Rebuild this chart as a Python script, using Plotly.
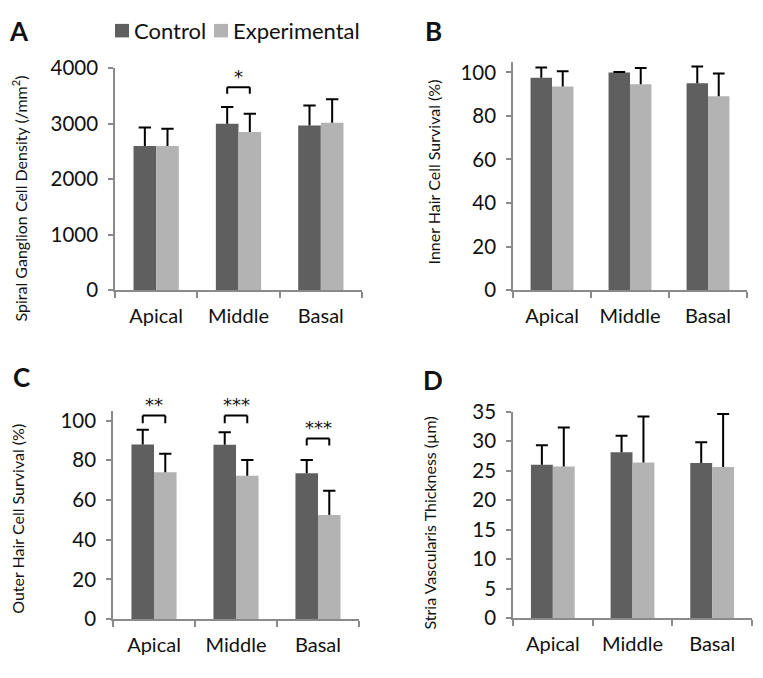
import plotly.graph_objects as go

regions = ["Apical", "Middle", "Basal"]

# A - spiral ganglion cell density
sgn_ctrl = [2600, 3000, 2970]
sgn_ctrl_sd = [330, 300, 360]
sgn_exp = [2600, 2850, 3020]
sgn_exp_sd = [310, 330, 420]

# B - inner hair cell survival
ihc_ctrl = [97.5, 100, 95]
ihc_ctrl_sd = [4.7, 0.2, 7.7]
ihc_exp = [93.5, 94.5, 89]
ihc_exp_sd = [7.0, 7.5, 10.5]

# C - outer hair cell survival
ohc_ctrl = [88, 87.8, 73.5]
ohc_ctrl_sd = [7.4, 6.4, 6.7]
ohc_exp = [74, 72.2, 52.5]
ohc_exp_sd = [9.3, 8.0, 12.1]

# D - stria vascularis thickness
sv_ctrl = [26.0, 28.1, 26.3]
sv_ctrl_sd = [3.3, 2.8, 3.5]
sv_exp = [25.7, 26.4, 25.6]
sv_exp_sd = [6.6, 7.8, 9.0]

# significance marks: (panel, region index, bracket y, leg y, label)
sig_marks = [
    (1, 1, 3657, 3540, "*"),
    (3, 0, 102.6, 98.7, "**"),
    (3, 1, 102.6, 98.7, "***"),
    (3, 2, 91.0, 87.4, "***"),
]

DARK = "#5f5f5f"
LIGHT = "#b3b3b3"
AXIS = "#8a8a8a"
FONT = "Lato"
BARGAP = 0.45
half = (1 - BARGAP) / 4   # offset of each bar centre from its category

W, H = 763, 678
PAGE = 8  # the page body margin shifts the figure by 8px


def px_x(p):
    return (p - PAGE) / W


def px_y(p):
    return 1 - (p - PAGE) / H


fig = go.Figure()

panels = [
    (1, sgn_ctrl, sgn_ctrl_sd, sgn_exp, sgn_exp_sd),
    (2, ihc_ctrl, ihc_ctrl_sd, ihc_exp, ihc_exp_sd),
    (3, ohc_ctrl, ohc_ctrl_sd, ohc_exp, ohc_exp_sd),
    (4, sv_ctrl, sv_ctrl_sd, sv_exp, sv_exp_sd),
]

err_line = dict(color="black", width=2)
for n, c, csd, e, esd in panels:
    ax = "" if n == 1 else str(n)
    for name, vals, sd, col, off in [("Control", c, csd, DARK, -half),
                                      ("Experimental", e, esd, LIGHT, half)]:
        fig.add_trace(go.Bar(
            x=regions, y=vals, name=name, marker_color=col, marker_line_width=0,
            xaxis="x" + ax, yaxis="y" + ax, showlegend=False,
        ))
        # upper-only error bars (Excel style, no lower cap)
        for i, (v, s) in enumerate(zip(vals, sd)):
            xc = i + off
            fig.add_shape(type="line", xref="x" + ax, yref="y" + ax,
                          x0=xc, x1=xc, y0=v, y1=v + s, line=err_line)
            fig.add_shape(type="line", xref="x" + ax, yref="y" + ax,
                          x0=xc - 0.075, x1=xc + 0.075, y0=v + s, y1=v + s, line=err_line)


def dx(a, b):
    return [px_x(a), px_x(b)]


def dy(top, bottom):
    return [px_y(bottom), px_y(top)]


xax = dict(type="category", showline=True, linecolor=AXIS, linewidth=1.5,
           ticks="outside", tickson="boundaries", ticklen=6, tickcolor=AXIS, tickwidth=1.5,
           tickfont=dict(size=20, color="#111"), ticklabelstandoff=7,
           showgrid=False, zeroline=False, fixedrange=True)
yax = dict(showline=True, linecolor=AXIS, linewidth=1.5, ticks="outside", ticklen=5,
           tickcolor=AXIS, tickwidth=1.5, tickfont=dict(size=20.5, color="#111"),
           ticklabelstandoff=6, showgrid=False, zeroline=False, fixedrange=True)

fig.update_layout(
    width=W, height=H, margin=dict(l=0, r=0, t=0, b=0),
    paper_bgcolor="white", plot_bgcolor="white",
    font=dict(family=FONT, color="#111"),
    barmode="group", bargap=BARGAP, bargroupgap=0, showlegend=False,
    xaxis=dict(xax, domain=dx(115, 362), anchor="y"),
    yaxis=dict(yax, domain=dy(57, 287), range=[0, 4000], tickvals=[0, 1000, 2000, 3000, 4000], anchor="x"),
    xaxis2=dict(xax, domain=dx(513, 747), anchor="y2"),
    yaxis2=dict(yax, domain=dy(50, 287), range=[0, 105], tickvals=[0, 20, 40, 60, 80, 100], anchor="x2"),
    xaxis3=dict(xax, domain=dx(113, 359), anchor="y3"),
    yaxis3=dict(yax, domain=dy(412, 628), range=[0, 105], tickvals=[0, 20, 40, 60, 80, 100], anchor="x3"),
    xaxis4=dict(xax, domain=dx(513, 752), anchor="y4"),
    yaxis4=dict(yax, domain=dy(413, 627), range=[0, 35], tickvals=[0, 5, 10, 15, 20, 25, 30, 35], anchor="x4"),
)

# legend drawn by hand (Excel style swatches)
for name, col, sx, tx in [("Control", DARK, 115, 132), ("Experimental", LIGHT, 214, 231)]:
    fig.add_shape(type="rect", xref="paper", yref="paper", x0=px_x(sx), x1=px_x(sx + 14),
                  y0=px_y(25), y1=px_y(11), fillcolor=col, line_width=0)
    fig.add_annotation(xref="paper", yref="paper", x=px_x(tx), y=px_y(18), text=name,
                       showarrow=False, xanchor="left", yanchor="middle",
                       font=dict(size=22, color="#111"))

# significance brackets between bar centres
for n, i, yb, yl, label in sig_marks:
    ax = "" if n == 1 else str(n)
    xr, yr = "x" + ax, "y" + ax
    x0, x1 = i - half, i + half
    line = dict(color="black", width=2)
    fig.add_shape(type="line", xref=xr, yref=yr, x0=x0, x1=x1, y0=yb, y1=yb, line=line)
    fig.add_shape(type="line", xref=xr, yref=yr, x0=x0, x1=x0, y0=yb, y1=yl, line=line)
    fig.add_shape(type="line", xref=xr, yref=yr, x0=x1, x1=x1, y0=yb, y1=yl, line=line)
    fig.add_annotation(xref=xr, yref=yr, x=i, y=yb, yshift=-2, text=label, showarrow=False,
                       font=dict(family="DejaVu Sans", size=18, color="#111"), yanchor="bottom")

# panel letters
for letter, px, py in [("A", 19, 18), ("B", 433, 18), ("C", 21, 377), ("D", 433, 380)]:
    fig.add_annotation(xref="paper", yref="paper", x=px_x(px), y=px_y(py), text="<b>%s</b>" % letter,
                       showarrow=False, font=dict(size=26, color="#111"),
                       xanchor="center", yanchor="middle")

# y axis titles
for title, px, py in [
    ("Spiral Ganglion Cell Density (/mm<sup>2</sup>)", 20, 192),
    ("Inner Hair Cell Survival (%)", 433, 165),
    ("Outer Hair Cell Survival (%)", 18, 524),
    ("Stria Vascularis Thickness (µm)", 430, 529),
]:
    fig.add_annotation(xref="paper", yref="paper", x=px_x(px), y=px_y(py), text=title,
                       textangle=-90, showarrow=False, font=dict(size=16, color="#111"),
                       xanchor="center", yanchor="middle")

fig.write_html("out.html")
